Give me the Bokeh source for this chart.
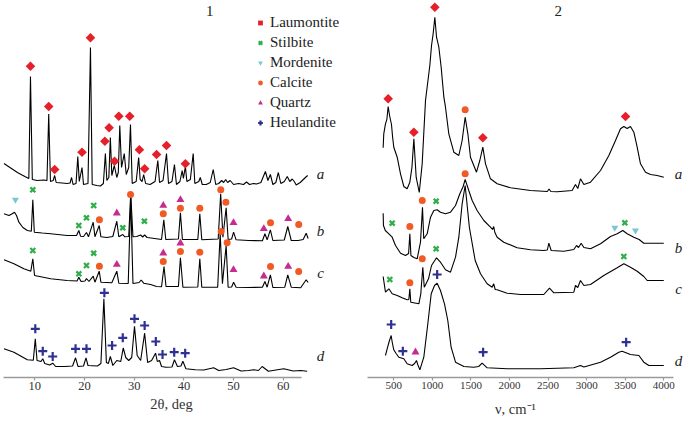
import math
from bokeh.plotting import figure
from bokeh.layouts import row
from bokeh.models import Range1d, FixedTicker, Legend, LegendItem
from bokeh.core.properties import value
from bokeh.embed import file_html
from bokeh.resources import INLINE

# ---------------- DATA ----------------
# Panel 1: XRD patterns, (2theta in deg, intensity a.u.; curves a-d offset vertically)
xrd_a = [(3.8,214),(5.0,210),(6.5,205),(8.0,201),(8.8,199),(9.13,301),(9.5,198),(10.5,197),(11.8,197.5),
         (12.45,197),(12.8,263.5),(13.15,196),(13.7,197),(14.0,202),(14.3,195),(15.5,194.5),(16.5,194),
         (17.1,194.5),(17.4,200),(17.7,193),(18.3,194),(18.65,221),(18.95,196),(19.5,210),(19.8,193),
         (20.7,194),(21.2,330),(21.55,193),(22.5,192),(23.2,191.5),(23.8,194),(24.2,224),(24.5,197),
         (24.9,200),(25.2,240),(25.5,202),(26.0,212),(26.5,200),(26.8,205),(27.1,252),(27.45,210),
         (28.0,224),(28.4,203),(28.9,210),(29.25,253),(29.6,194),(30.4,196),(30.9,220),(31.2,198),
         (31.6,196),(31.9,203),(32.3,194),(33.2,193),(34.2,196),(34.75,217),(35.1,195),(35.8,197),
         (36.5,224),(36.9,194),(37.6,196),(38.1,213),(38.5,193),(39.2,196),(39.66,207),(39.9,199),
         (40.3,211),(40.6,196),(41.3,198),(41.87,224),(42.2,194),(43.0,196),(43.3,200),(43.7,193),
         (44.5,193),(45.3,195),(45.9,208),(46.4,193),(47.0,194),(47.6,197),(48.0,195),(48.4,198),
         (48.8,195),(49.3,197),(50.0,193),(51.0,194),(52.0,193),(52.6,195.5),(53.2,193),(54.0,194),
         (54.6,193.5),(55.5,195),(56.4,206),(56.9,197),(57.4,203),(57.9,193),(58.5,195),(59.0,205),
         (59.5,194),(60.2,196),(60.8,201),(61.3,196),(61.8,198.5),(62.2,196),(62.6,192.5),(63.4,195),
         (64.45,200),(64.9,202)]
xrd_b = [(3.8,163.7),(4.8,162),(5.45,163.7),(5.92,165.3),(6.32,162),(6.8,155.3),(7.6,150),(8.5,147),
         (9.3,146.3),(9.6,177.7),(9.9,145.3),(11.5,144.5),(13.2,143.7),(16.5,142),(18.4,142),(18.86,147),
         (19.2,141.3),(19.8,141),(20.4,145),(20.8,140.7),(21.75,155.3),(22.1,140.7),(22.96,152),
         (23.3,140.7),(24.5,140),(25.7,141),(26.5,156.3),(26.9,140.7),(27.7,143),(28.1,140.7),(28.9,141),
         (29.3,184),(29.75,140.7),(30.5,141),(31.3,142.5),(31.7,140.5),(32.1,142.5),(32.6,140),
         (33.4,139.5),(35.5,138),(35.96,157.7),(36.35,138),(38.9,138.5),(39.3,164.7),(39.7,138),
         (42.8,138),(43.2,163.7),(43.6,137.7),(46.9,138.5),(47.4,183.7),(47.85,140.3),(48.5,169.7),
         (48.9,138),(49.6,138.5),(50.0,145.3),(50.5,137.7),(53.0,137),(55.8,136.7),(56.3,143.7),
         (56.75,137.7),(57.4,147.7),(57.9,137),(60.2,137.5),(60.9,151),(61.6,137),(63.0,137),(64.0,138),
         (64.6,144.3),(65.0,139)]
xrd_c = [(3.8,117.7),(5.8,113.7),(7.8,108.7),(9.2,106.3),(9.6,118.7),(9.95,102),(13.2,98.7),(16.5,97),
         (18.5,96.5),(18.86,100.3),(19.3,96),(20.1,96.5),(20.4,99),(20.9,96),(21.75,101.3),(22.1,95.3),
         (22.96,106.3),(23.3,95.3),(25.5,94.7),(26.5,106.3),(26.9,94.3),(28.8,94),(29.3,180),(29.75,94),
         (31.0,95),(31.4,97.5),(31.9,94.3),(33.3,93),(34.5,91),(35.5,90.7),(36.0,111),(36.4,91),(38.9,91),
         (39.3,119.7),(39.8,90.3),(42.8,90.5),(43.2,118.7),(43.6,90.3),(46.8,90.3),(47.3,144),(47.75,93.7),
         (48.5,132),(48.9,90.3),(49.6,90.5),(50.0,95.3),(50.5,90.3),(53.0,90),(55.8,90.3),(56.3,96),
         (56.75,90.3),(57.4,102.7),(57.9,90),(60.3,90.3),(60.9,102.7),(61.6,90.3),(63.5,89.7),(64.6,97.7),
         (65.0,95)]
xrd_d = [(3.8,28.7),(5.8,25.3),(8.5,17.7),(9.7,17.3),(10.1,38.7),(10.45,17),(11.25,16),(11.6,18.7),
         (12.0,14),(13.0,12.5),(13.6,14.3),(14.2,11),(16.0,11),(17.6,11.5),(18.2,19.7),(18.7,11),
         (19.8,11.5),(20.3,19.7),(20.7,12),(22.6,11.5),(23.3,14),(23.9,78.7),(24.4,15),(24.8,14),(25.2,21),
         (25.7,12),(26.5,17),(27.3,16),(27.8,29.7),(28.3,20),(28.9,17),(29.5,20),(30.06,51.3),(30.6,22),
         (31.3,17),(32.1,44.3),(32.7,15),(33.5,17),(34.3,24.3),(34.65,16),(35.1,17),(35.5,11),(36.4,10.3),
         (37.6,10.5),(38.1,17.7),(38.7,11),(39.4,11.5),(39.8,16.3),(40.4,8.7),(42.3,7.7),(44.0,7.5),
         (46.0,9.7),(47.0,7),(48.5,8),(50.0,9.7),(51.5,6.5),(53.0,7),(54.0,7.8),(55.0,7),(55.75,11),
         (57.0,6.3),(58.5,7.5),(60.1,8.7),(62.0,6.5),(63.5,7),(64.8,6.3)]

# phase markers on panel 1
xrd_laumontite = [(9.13,311.3),(12.8,271),(14.0,208),(19.5,225.3),(21.2,339.7),(24.1,236.3),(24.95,249.7),
                  (26.05,216.3),(26.9,261.3),(29.1,261.3),(31.05,227.7),(32.1,208.7),(34.5,223),(36.5,232),
                  (40.3,213.7)]
xrd_stilbite = [(9.6,187.7),(18.86,152),(20.4,159.7),(21.85,172),(27.7,149.7),(32.05,156.3),
                (9.6,127),(18.86,103.7),(20.4,112),(21.85,124.3)]
xrd_mordenite = [(6.1,177.7)]
xrd_calcite = [(23.0,157.7),(29.26,183),(35.85,163.7),(39.3,169.3),(43.2,169.3),(47.42,187.7),(48.45,175.3),
               (57.43,154.7),(63.1,153),(23.0,111.3),(35.85,116),(39.3,126),(43.2,125.3),(47.5,146),
               (48.7,134.7),(57.43,111),(63.1,106)]
xrd_quartz = [(26.5,164.3),(35.85,172),(39.3,177.7),(49.98,154.7),(56.08,148.7),(60.98,158.7),
              (26.5,113),(35.85,124.3),(39.3,134.3),(49.98,107.7),(56.08,101.3),(60.98,111)]
xrd_heulandite = [(10.1,48.7),(11.6,26.3),(13.6,21),(18.2,28.7),(20.4,28.7),(24.0,84.7),(25.55,32),
                  (27.7,39.7),(30.06,58.7),(32.1,52),(34.35,36),(35.7,23),(38.05,25.3),(40.26,24.3)]

# Panel 2: IR spectra, (wavenumber cm-1, absorbance a.u.; curves offset)
ir_a = [(362,229.7),(370,243.7),(392,253.7),(410,258),(427,271),(445,262),(470,253),(485,240),(500,230.3),
        (544,220.3),(587,203.7),(630,191),(673,188.7),(708,195.3),(735,210),(760,238.7),(790,200.3),
        (830,185),(868,213.7),(911,277),(967,312),(989,332),(1010,343.7),(1032,360.3),(1054,340.3),
        (1084,330.3),(1114,310.3),(1149,280.3),(1170,270.3),(1213,243.7),(1278,225.3),(1343,222),
        (1386,237),(1425,260.3),(1460,243.7),(1494,220.3),(1572,205.3),(1615,217),(1654,230.3),
        (1689,213.7),(1753,198.7),(1840,193.7),(2013,189.7),(2272,187),(2490,186),(2513,188.5),
        (2536,186),(2618,185.7),(2812,187),(2855,193),(2885,189),(2920,198.7),(2964,193),(3050,195.3),
        (3180,207),(3288,222),(3374,237),(3439,248.7),(3482,251),(3525,249),(3568,251),(3612,245.3),
        (3655,230.3),(3698,213.7),(3763,205.3),(3828,203),(3914,202),(4000,200.3)]
ir_b = [(362,164.3),(366,152),(390,147),(436,143.7),(479,140.3),(522,132),(587,124.3),(652,122),(692,124),
        (708,143.7),(722,122),(760,120),(803,118.7),(846,135.3),(872,170.3),(888,138.7),(933,143.7),
        (976,160.3),(1019,167),(1062,167.7),(1105,165.3),(1170,163.7),(1235,165.3),(1300,172),
        (1356,183.7),(1399,191),(1425,198),(1472,187),(1516,177),(1580,167),(1667,157),(1753,150.3),
        (1780,148),(1795,151),(1810,145),(1840,140.3),(1926,135.3),(2099,129.7),(2272,127.7),(2445,127),
        (2490,127.5),(2510,134.3),(2540,127),(2704,126.3),(2834,128),(2869,132),(2895,130),(2929,134.3),
        (2964,130),(3050,128.7),(3180,133.7),(3309,141),(3396,143.7),(3469,147),(3525,143.7),(3612,140.3),
        (3680,138),(3741,134.3),(3828,134.3),(4000,134.3)]
ir_c = [(362,101),(392,85.3),(436,88.7),(479,83.7),(544,82),(608,79.7),(673,77.7),(695,78),(708,88.7),
        (720,75.3),(825,73.7),(850,83.7),(876,110.3),(895,90.3),(950,98.7),(989,112),(1054,119.7),
        (1105,115.3),(1170,107.7),(1235,105.3),(1300,120.3),(1343,140.3),(1386,173.7),(1425,192),
        (1480,150),(1555,117),(1624,103.7),(1710,93.7),(1775,90.3),(1795,93.7),(1815,88),(1840,87.7),
        (1970,84.3),(2143,83),(2445,83),(2518,89.3),(2575,84.7),(2834,85.3),(2855,92),(2885,90),(2920,97),
        (2964,92),(3050,93),(3222,102),(3396,109.7),(3482,113.7),(3568,110.3),(3655,106.3),(3741,101),
        (3785,97),(3850,97),(4000,97)]
ir_d = [(392,22),(414,28.7),(440,36),(466,42),(480,35),(500,27.7),(530,24),(565,20.3),(630,18.7),(673,13.7),
        (738,12),(770,14),(794,17),(810,13),(838,7.7),(889,20.3),(941,53.7),(985,83.7),(1028,92),
        (1062,94.3),(1105,87),(1157,73.7),(1200,57),(1243,30.3),(1300,15.3),(1408,11),(1537,10.3),
        (1600,11),(1645,14.3),(1710,9.7),(1970,8.7),(2402,8.7),(2834,9.7),(2920,12),(2964,10.5),
        (3180,15.3),(3309,20.3),(3417,25.3),(3460,26.3),(3568,23),(3677,22),(3741,15.3),(3806,12),
        (4000,12)]

ir_laumontite = [(427,278.7),(760,245.3),(1032,370.3),(1654,239.7),(3504,261)]
ir_stilbite = [(479,154.3),(1049,176.3),(3495,154.7),(448,98),(1049,128.7),(3482,121)]
ir_mordenite = [(3365,149.7),(3633,147)]
ir_calcite = [(1425,267.7),(708,151),(869,177),(1425,203.7),(708,94.7),(869,118.7)]
ir_quartz = [(781,25.3)]
ir_heulandite = [(466,53),(617,26.3),(1062,103),(1658,25.3),(3512,35.3)]

xrd_ticks = [10, 20, 30, 40, 50, 60]
ir_ticks = [500, 1000, 1500, 2000, 2500, 3000, 3500, 4000]
trace_names = ["a", "b", "c", "d"]
xrd_label_x = [67.5, 67.5, 67.5, 67.5]
xrd_label_y = [203.7, 146.3, 104.3, 22]
ir_label_x = [4191, 4191, 4191, 4191]
ir_label_y = [203.7, 129.7, 88.7, 17]

phases = ["Laumontite", "Stilbite", "Mordenite", "Calcite", "Quartz", "Heulandite"]

# ---------------- STYLE ----------------
SERIF = "Liberation Serif"
AX_COL = "#9a9a9a"
TXT = "#222222"
styles = {
    "Laumontite": dict(marker="square", angle=math.pi / 4, size=6.8, fill_color="#e5202b", line_color=None),
    "Stilbite": dict(marker="x", size=7, line_color="#2fae4a", line_width=2.3),
    "Mordenite": dict(marker="inverted_triangle", size=7, fill_color="#78c7d2", line_color=None),
    "Calcite": dict(marker="circle", size=7, fill_color="#f15a24", line_color=None),
    "Quartz": dict(marker="triangle", size=8, fill_color="#c42d8e", line_color=None),
    "Heulandite": dict(marker="cross", size=9, line_color="#2e3192", line_width=2.2),
}


def xs(pts):
    return [p[0] for p in pts]


def ys(pts):
    return [p[1] for p in pts]


def make_fig(width, xr, bl, br, tick_size, title_standoff):
    p = figure(width=width, height=425, x_range=Range1d(*xr), y_range=Range1d(0, 377),
               output_backend="svg", toolbar_location=None, y_axis_location=None,
               min_border_left=bl, min_border_right=br, min_border_top=0, min_border_bottom=48)
    p.grid.grid_line_color = None
    p.outline_line_color = None
    p.background_fill_color = "white"
    p.border_fill_color = "white"
    ax = p.xaxis[0]
    ax.axis_line_color = AX_COL
    ax.axis_line_width = 1.4
    ax.major_tick_line_color = AX_COL
    ax.major_tick_line_width = 1.2
    ax.major_tick_out = 3
    ax.major_tick_in = 0
    ax.minor_tick_line_color = None
    ax.major_label_text_font = SERIF
    ax.major_label_text_font_size = tick_size
    ax.major_label_text_color = "#333333"
    ax.major_label_standoff = 1
    ax.axis_label_text_font = SERIF
    ax.axis_label_text_font_size = "14.5px"
    ax.axis_label_text_font_style = "normal"
    ax.axis_label_text_color = "#333333"
    ax.axis_label_standoff = title_standoff
    return p


# ---------------- PANEL 1 ----------------
p1 = make_fig(340, (3.501, 71.51), 2, 0, "12.5px", 3)
p1.xaxis.ticker = FixedTicker(ticks=xrd_ticks)
p1.xaxis.bounds = (3.7, 63.7)
p1.xaxis.axis_label = "2θ, deg"

for tr in (xrd_a, xrd_b, xrd_c, xrd_d):
    p1.line(xs(tr), ys(tr), line_color="black", line_width=1.1)

xrd_marks = dict(Laumontite=xrd_laumontite, Stilbite=xrd_stilbite, Mordenite=xrd_mordenite,
                 Calcite=xrd_calcite, Quartz=xrd_quartz, Heulandite=xrd_heulandite)
items = []
for name in phases:
    pts = xrd_marks[name]
    r = p1.scatter(xs(pts), ys(pts), **styles[name])
    items.append(LegendItem(label=name, renderers=[r]))

p1.text(x=xrd_label_x, y=xrd_label_y, text=trace_names, text_font=value(SERIF), text_font_style="italic",
        text_font_size="15px", text_align="center", text_baseline="middle", text_color=TXT)
p1.text(x=[45.2], y=[367], text=["1"], text_font=value(SERIF), text_font_size="15px",
        text_align="center", text_baseline="middle", text_color=TXT)

legend = Legend(items=items, location=(252, 246), orientation="vertical",
                glyph_width=12, glyph_height=17, label_height=17, spacing=3, label_standoff=4,
                padding=0, margin=0, border_line_color=None, background_fill_alpha=0,
                label_text_font=SERIF, label_text_font_size="15px", label_text_color=TXT)
p1.add_layout(legend)

# ---------------- PANEL 2 ----------------
p2 = make_fig(345, (-126.1, 4281.4), 5, 0, "11px", 9)
p2.xaxis.ticker = FixedTicker(ticks=ir_ticks)
p2.xaxis.bounds = (155, 4126)
p2.xaxis.axis_label = "ν, cm⁻¹"

for tr in (ir_a, ir_b, ir_c, ir_d):
    p2.line(xs(tr), ys(tr), line_color="black", line_width=1.1)

ir_marks = dict(Laumontite=ir_laumontite, Stilbite=ir_stilbite, Mordenite=ir_mordenite,
                Calcite=ir_calcite, Quartz=ir_quartz, Heulandite=ir_heulandite)
for name in phases:
    pts = ir_marks[name]
    p2.scatter(xs(pts), ys(pts), **styles[name])

p2.text(x=ir_label_x, y=ir_label_y, text=trace_names, text_font=value(SERIF), text_font_style="italic",
        text_font_size="15px", text_align="center", text_baseline="middle", text_color=TXT)
p2.text(x=[2632], y=[367], text=["2"], text_font=value(SERIF), text_font_size="15px",
        text_align="center", text_baseline="middle", text_color=TXT)

layout = row(p1, p2)
open("out.html", "w").write(file_html(layout, INLINE))
